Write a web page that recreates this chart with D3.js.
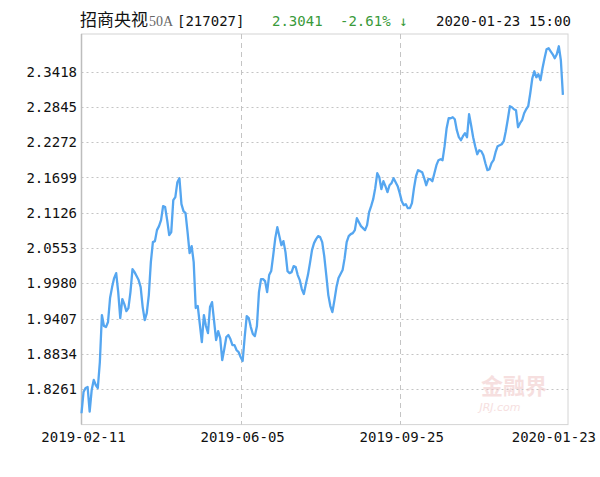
<!DOCTYPE html>
<html>
<head>
<meta charset="utf-8">
<script src="https://cdn.jsdelivr.net/npm/d3@7"></script>
<style>
  body { margin: 0; background: #fff; }
  .mono { font-family: "DejaVu Sans Mono", "Liberation Mono", monospace; font-size: 14px; }
</style>
</head>
<body>
<div id="chart"></div>
<script>
// Chart data (daily NAV, 2019-02-11 .. 2020-01-23)
var navValues = [
  1.7872, 1.8217, 1.8282, 1.8298, 1.7898, 1.8250, 1.8412, 1.8331, 1.8282, 1.8704,
  1.9466, 1.9288, 1.9271, 1.9353, 1.9742, 1.9920, 2.0066, 2.0147, 1.9839, 1.9417,
  1.9726, 1.9644, 1.9531, 1.9580, 1.9839, 2.0212, 2.0163, 2.0099, 2.0034, 1.9920,
  1.9596, 1.9385, 1.9498, 1.9790, 2.0326, 2.0650, 2.0666, 2.0845, 2.0910, 2.1007,
  2.1234, 2.1218, 2.1007, 2.0764, 2.0812, 2.1331, 2.1380, 2.1623, 2.1688, 2.1266,
  2.1153, 2.1120, 2.0812, 2.0472, 2.0585, 2.0326, 1.9580, 1.9612, 1.9320, 1.9028,
  1.9466, 1.9288, 1.9174, 1.9596, 1.9677, 1.9369, 1.9061, 1.9206, 1.9093, 1.8736,
  1.8915, 1.9109, 1.9142, 1.9077, 1.8979, 1.8979, 1.8898, 1.8866, 1.8785, 1.8720,
  1.9109, 1.9450, 1.9417, 1.9271, 1.9158, 1.9125, 1.9288, 1.9839, 2.0050, 2.0050,
  2.0017, 1.9839, 2.0115, 2.0180, 2.0439, 2.0715, 2.0893, 2.0747, 2.0601, 2.0666,
  2.0488, 2.0180, 2.0147, 2.0163, 2.0261, 2.0245, 2.0115, 2.0034, 1.9888, 1.9807,
  1.9969, 2.0115, 2.0309, 2.0520, 2.0634, 2.0699, 2.0747, 2.0731, 2.0650, 2.0423,
  2.0115, 1.9790, 1.9612, 1.9515, 1.9709, 1.9920, 2.0066, 2.0131, 2.0196, 2.0390,
  2.0650, 2.0747, 2.0780, 2.0796, 2.0845, 2.1039, 2.0974, 2.0910, 2.0877, 2.0845,
  2.0926, 2.1137, 2.1234, 2.1347, 2.1526, 2.1769, 2.1704, 2.1510, 2.1639, 2.1558,
  2.1461, 2.1574, 2.1607, 2.1688, 2.1623, 2.1558, 2.1445, 2.1315, 2.1250, 2.1266,
  2.1201, 2.1201, 2.1283, 2.1526, 2.1720, 2.1818, 2.1802, 2.1785, 2.1688, 2.1574,
  2.1672, 2.1672, 2.1639, 2.1769, 2.1899, 2.1980, 2.1996, 2.1980, 2.2207, 2.2499,
  2.2661, 2.2661, 2.2677, 2.2645, 2.2467, 2.2353, 2.2304, 2.2369, 2.2418, 2.2353,
  2.2726, 2.2548, 2.2353, 2.2207, 2.2077, 2.2142, 2.2126, 2.2061, 2.1931, 2.1818,
  2.1834, 2.1931, 2.1980, 2.2110, 2.2207, 2.2223, 2.2239, 2.2288, 2.2450, 2.2645,
  2.2856, 2.2840, 2.2807, 2.2791, 2.2515, 2.2580, 2.2629, 2.2742, 2.2807, 2.2856,
  2.3067, 2.3310, 2.3423, 2.3326, 2.3375, 2.3278, 2.3472, 2.3634, 2.3780, 2.3797,
  2.3748, 2.3699, 2.3634, 2.3699, 2.3829, 2.3602, 2.3041
];

// Axis ticks
var yTicks = [1.8261, 1.8834, 1.9407, 1.9980, 2.0553, 2.1126, 2.1699, 2.2272, 2.2845, 2.3418];
var xTickIndex = [0, 78, 156, 236];
var xTickLabels = ["2019-02-11", "2019-06-05", "2019-09-25", "2020-01-23"];

// Header info
var fundName = "招商央视";
var fundShare = "50A";
var fundCode = "[217027]";
var lastNav = "2.3041";
var lastChange = "-2.61% \u2193";
var lastTime = "2020-01-23 15:00";

// Set up the chart
var svgWidth = 600;
var svgHeight = 477;

var plot = { left: 81.5, right: 568, top: 36.3, bottom: 424.6 };

var svg = d3.select("#chart")
  .append("svg")
  .attr("width", svgWidth)
  .attr("height", svgHeight);

// Scales
var xScale = d3.scaleLinear()
  .domain([0, 238.5])
  .range([plot.left, plot.right]);

var yScale = d3.scaleLinear()
  .domain([1.7688, 2.3991])
  .range([plot.bottom, plot.top]);

// Frame
svg.append("rect")
  .attr("x", plot.left)
  .attr("y", 34)
  .attr("width", plot.right - plot.left)
  .attr("height", plot.bottom - 34)
  .attr("fill", "none")
  .attr("stroke", "#d4d4d4")
  .attr("stroke-width", 1);

// Horizontal dotted grid lines
svg.append("g")
  .selectAll("line")
  .data(yTicks)
  .enter()
  .append("line")
  .attr("x1", plot.left)
  .attr("x2", plot.right)
  .attr("y1", d => Math.round(yScale(d)) + 0.5)
  .attr("y2", d => Math.round(yScale(d)) + 0.5)
  .attr("stroke", "#c4c4c4")
  .attr("stroke-dasharray", "2,3");

// Vertical dashed grid lines (inner ticks only)
svg.append("g")
  .selectAll("line")
  .data(xTickIndex.slice(1, 3))
  .enter()
  .append("line")
  .attr("x1", d => Math.round(xScale(d)) + 0.5)
  .attr("x2", d => Math.round(xScale(d)) + 0.5)
  .attr("y1", 34)
  .attr("y2", plot.bottom)
  .attr("stroke", "#c4c4c4")
  .attr("stroke-dasharray", "5,4");

// Left axis line a bit darker
svg.append("line")
  .attr("x1", plot.left).attr("x2", plot.left)
  .attr("y1", 34).attr("y2", plot.bottom)
  .attr("stroke", "#bdbdbd")
  .attr("stroke-width", 1.5);

// Watermark
var wm = svg.append("g").attr("opacity", 0.55);
wm.append("text")
  .attr("x", 514)
  .attr("y", 394)
  .attr("text-anchor", "middle")
  .style("font-family", "'Noto Sans CJK SC'")
  .style("font-weight", "bold")
  .style("font-size", "22px")
  .attr("fill", "#f0c6c6")
  .text("金融界");
wm.append("text")
  .attr("x", 500)
  .attr("y", 411)
  .attr("text-anchor", "middle")
  .style("font-family", "'DejaVu Sans'")
  .style("font-style", "italic")
  .style("font-size", "11px")
  .attr("fill", "#f0c6c6")
  .text("JRJ.com");

// Y labels
svg.append("g")
  .selectAll("text")
  .data(yTicks)
  .enter()
  .append("text")
  .attr("class", "mono")
  .attr("x", 77)
  .attr("y", d => yScale(d))
  .attr("dy", "0.36em")
  .attr("text-anchor", "end")
  .attr("fill", "#111")
  .text(d => d.toFixed(4));

// X labels (last one kept inside the picture)
svg.append("g")
  .selectAll("text")
  .data(xTickIndex)
  .enter()
  .append("text")
  .attr("class", "mono")
  .attr("y", 442)
  .attr("text-anchor", "middle")
  .attr("fill", "#111")
  .text((d, i) => xTickLabels[i])
  .attr("x", function(d) {
    var w = this.getComputedTextLength();
    return Math.min(xScale(d) + 2, svgWidth - 4 - w / 2);
  });

// NAV line
var line = d3.line()
  .x((d, i) => xScale(i))
  .y(d => yScale(d));

svg.append("path")
  .datum(navValues)
  .attr("d", line)
  .attr("fill", "none")
  .attr("stroke", "#55a6f0")
  .attr("stroke-width", 2.3)
  .attr("stroke-linejoin", "round");

// Header
var header = svg.append("g");
header.append("text")
  .attr("x", 80)
  .attr("y", 26)
  .style("font-family", "'Noto Sans CJK SC'")
  .style("font-size", "17px")
  .attr("fill", "#111")
  .text(fundName);
header.append("text")
  .attr("x", 149)
  .attr("y", 26)
  .style("font-family", "'Liberation Serif'")
  .style("font-size", "14px")
  .attr("fill", "#666")
  .text(fundShare);
header.append("text")
  .attr("class", "mono")
  .attr("x", 177)
  .attr("y", 26)
  .attr("fill", "#111")
  .text(fundCode);
header.append("text")
  .attr("class", "mono")
  .attr("x", 272)
  .attr("y", 26)
  .attr("fill", "#3a9a3a")
  .text(lastNav);
header.append("text")
  .attr("class", "mono")
  .attr("x", 340)
  .attr("y", 26)
  .attr("fill", "#3a9a3a")
  .text(lastChange);
header.append("text")
  .attr("class", "mono")
  .attr("x", 436)
  .attr("y", 26)
  .attr("fill", "#111")
  .text(lastTime);
</script>
</body>
</html>
